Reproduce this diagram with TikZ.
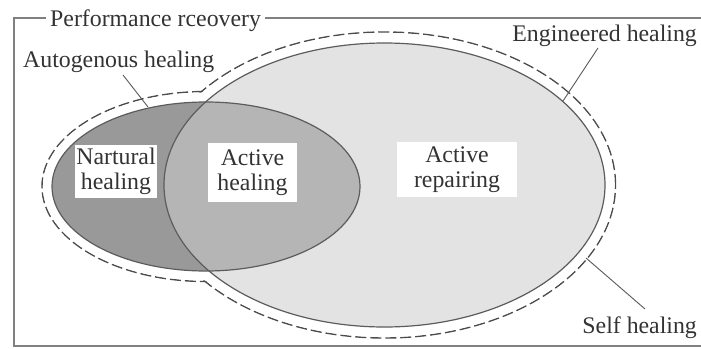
\documentclass[tikz,border=0pt]{standalone}
\usepackage{fontspec}
\setmainfont{Liberation Serif}
\definecolor{cA}{gray}{0.60}
\definecolor{cAB}{gray}{0.71}
\definecolor{cB}{gray}{0.89}
\definecolor{edgec}{gray}{0.36}
\definecolor{rimc}{gray}{0.30}
\definecolor{txt}{gray}{0.20}
\definecolor{framec}{gray}{0.50}
\definecolor{leadc}{gray}{0.35}
\tikzset{
  lbl/.style={font=\fontsize{23.8}{25}\selectfont, text=txt, inner sep=0pt},
  boxlbl/.style={lbl, fill=white, align=center},
  leader/.style={draw=leadc, line width=0.9pt},
  rim/.style={draw=rimc, line width=1.4pt, dash pattern=on 11pt off 4pt},
  edgeline/.style={draw=edgec, line width=1.2pt},
  framel/.style={draw=framec, line width=1.6pt}
}
\begin{document}
\begin{tikzpicture}[x=1pt,y=-1pt]
\useasboundingbox (0,0) rectangle (701,348);
% frame
\draw[framel] (701,18) -- (14,18) -- (14,346) -- (701,346);
\node[lbl, fill=white, inner xsep=4pt, inner ysep=2pt, anchor=base west] (title) at (46,26) {Performance rceovery};
% centres
\coordinate (cA) at (206,186.5);
\coordinate (cB) at (384.5,185);
% dashed outline of the union
\draw[rim] (cA) ellipse [x radius=164pt, y radius=95pt];
\draw[rim] (cB) ellipse [x radius=231pt, y radius=153pt];
\fill[white] (cA) ellipse [x radius=163pt, y radius=94pt];
\fill[white] (cB) ellipse [x radius=230pt, y radius=152pt];
% filled ellipses
\fill[cB] (cB) ellipse [x radius=220.5pt, y radius=142pt];
\fill[cA] (cA) ellipse [x radius=154pt, y radius=84.5pt];
\begin{scope}
  \clip (cB) ellipse [x radius=220.5pt, y radius=142pt];
  \fill[cAB] (cA) ellipse [x radius=154pt, y radius=84.5pt];
\end{scope}
\draw[edgeline] (cB) ellipse [x radius=220.5pt, y radius=142pt];
\draw[edgeline] (cA) ellipse [x radius=154pt, y radius=84.5pt];
% boxes
\node[boxlbl, minimum width=82pt, minimum height=53pt] (nat) at (116,171.5) {Nartural\\healing};
\node[boxlbl, minimum width=89pt, minimum height=59pt] (acth) at (252.5,172.5) {Active\\healing};
\node[boxlbl, minimum width=120pt, minimum height=55pt] (actr) at (457,169.5) {Active\\repairing};
% outer labels
\node[lbl, anchor=base west] (auto) at (23,67) {Autogenous healing};
\node[lbl, anchor=base east] (eng) at (697,41) {Engineered healing};
\node[lbl, anchor=base east] (self) at (697,333) {Self healing};
% leaders
\coordinate (autoS) at (123,75);
\coordinate (autoE) at (148,107);
\coordinate (engS) at (598,48);
\coordinate (engE) at (563,101);
\coordinate (selfS) at (645,309);
\coordinate (selfE) at (586,258);
\draw[leader] (autoS) -- (autoE);
\draw[leader] (engS) -- (engE);
\draw[leader] (selfS) -- (selfE);
\end{tikzpicture}
\end{document}
